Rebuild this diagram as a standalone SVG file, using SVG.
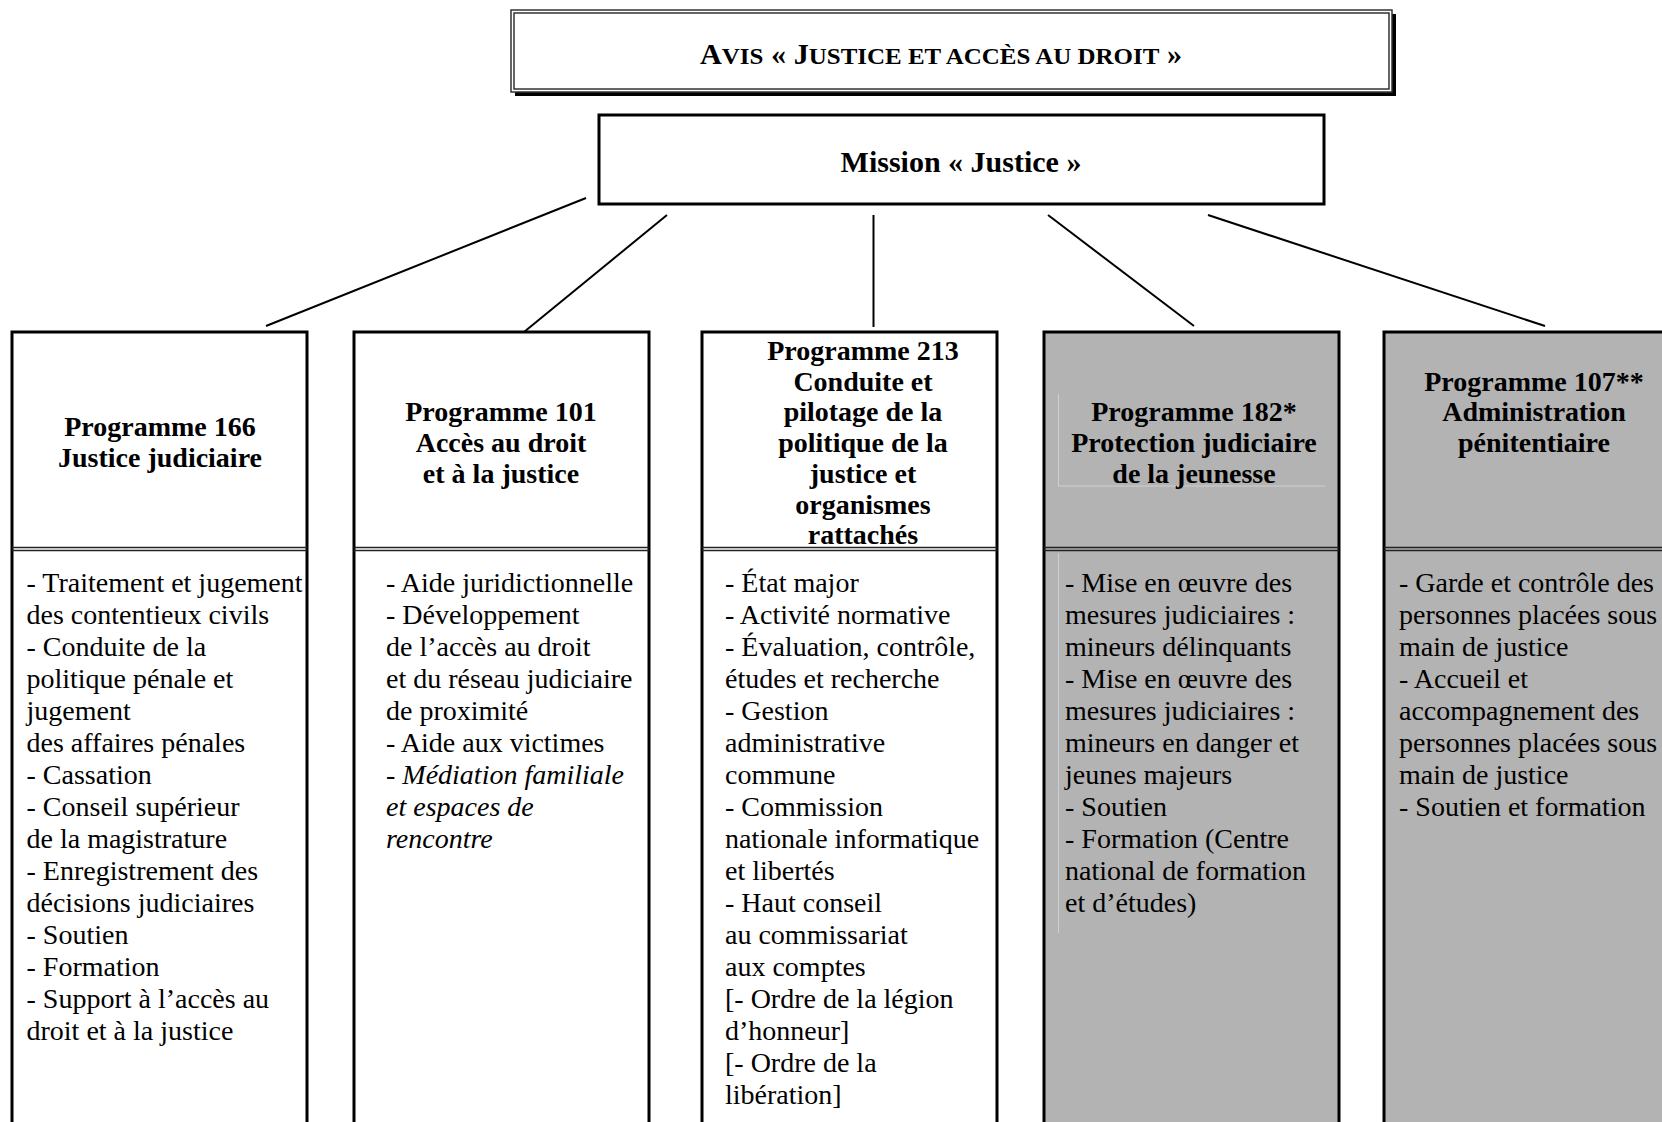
<svg xmlns="http://www.w3.org/2000/svg" width="1662" height="1122" viewBox="0 0 1662 1122">
<style>
  text { font-family: "Liberation Serif", "Times New Roman", serif; fill: #000; }
  .hd { font-size: 28px; font-weight: bold; text-anchor: middle; }
  .bd { font-size: 28px; }
  .it { font-style: italic; }
  .box { fill: #fff; stroke: #000; stroke-width: 3; }
  .gray { fill: #b3b3b3; stroke: #000; stroke-width: 3; }
  .dv { stroke: #222; stroke-width: 1.5; fill: none; }
  .faint { stroke: #cfcfcf; stroke-width: 1; fill: none; }
  .conn line { stroke: #000; stroke-width: 2; }
</style>

<g id="avis">
  <rect x="515" y="14" width="881" height="82" fill="#000"/>
  <rect x="511" y="10" width="881" height="82" fill="#fff" stroke="#333" stroke-width="1.5"/>
  <rect x="514" y="13" width="875" height="76" fill="none" stroke="#333" stroke-width="1.5"/>
  <text x="700" y="64" font-weight="bold" textLength="482" lengthAdjust="spacingAndGlyphs"><tspan font-size="29">A</tspan><tspan font-size="24">VIS</tspan><tspan font-size="29"> « J</tspan><tspan font-size="24">USTICE ET ACCÈS AU DROIT</tspan><tspan font-size="29"> »</tspan></text>
</g>

<g id="mission">
  <rect x="599" y="115" width="725" height="89" class="box"/>
  <text x="961" y="172" font-size="30" font-weight="bold" text-anchor="middle">Mission « Justice »</text>
</g>

<g id="connectors" class="conn">
  <line x1="586" y1="198" x2="266" y2="326"/>
  <line x1="667" y1="215" x2="524" y2="332"/>
  <line x1="873.5" y1="215" x2="873.5" y2="327"/>
  <line x1="1048" y1="215" x2="1194" y2="326"/>
  <line x1="1208" y1="215" x2="1545" y2="326"/>
</g>

<g id="p166">
  <rect x="12" y="332" width="295" height="810" class="box"/>
  <path class="dv" d="M12 547.5H307M12 550.5H307"/>
  <text class="hd" x="160" y="436">Programme 166</text>
  <text class="hd" x="160" y="467">Justice judiciaire</text>
  <text class="bd" x="26.5" y="592">
    <tspan x="26.5" dy="0">- Traitement et jugement</tspan>
    <tspan x="26.5" dy="32">des contentieux civils</tspan>
    <tspan x="26.5" dy="32">- Conduite de la</tspan>
    <tspan x="26.5" dy="32">politique pénale et</tspan>
    <tspan x="26.5" dy="32">jugement</tspan>
    <tspan x="26.5" dy="32">des affaires pénales</tspan>
    <tspan x="26.5" dy="32">- Cassation</tspan>
    <tspan x="26.5" dy="32">- Conseil supérieur</tspan>
    <tspan x="26.5" dy="32">de la magistrature</tspan>
    <tspan x="26.5" dy="32">- Enregistrement des</tspan>
    <tspan x="26.5" dy="32">décisions judiciaires</tspan>
    <tspan x="26.5" dy="32">- Soutien</tspan>
    <tspan x="26.5" dy="32">- Formation</tspan>
    <tspan x="26.5" dy="32">- Support à l’accès au</tspan>
    <tspan x="26.5" dy="32">droit et à la justice</tspan>
  </text>
</g>

<g id="p101">
  <rect x="354" y="332" width="295" height="810" class="box"/>
  <path class="dv" d="M354 547.5H649M354 550.5H649"/>
  <text class="hd" x="501" y="421">Programme 101</text>
  <text class="hd" x="501" y="452">Accès au droit</text>
  <text class="hd" x="501" y="483">et à la justice</text>
  <text class="bd" x="386" y="592">
    <tspan x="386" dy="0">- Aide juridictionnelle</tspan>
    <tspan x="386" dy="32">- Développement</tspan>
    <tspan x="386" dy="32">de l’accès au droit</tspan>
    <tspan x="386" dy="32">et du réseau judiciaire</tspan>
    <tspan x="386" dy="32">de proximité</tspan>
    <tspan x="386" dy="32">- Aide aux victimes</tspan>
    <tspan x="386" dy="32" class="it">- Médiation familiale</tspan>
    <tspan x="386" dy="32" class="it">et espaces de</tspan>
    <tspan x="386" dy="32" class="it">rencontre</tspan>
  </text>
</g>

<g id="p213">
  <rect x="702" y="332" width="295" height="810" class="box"/>
  <path class="dv" d="M702 547.5H997M702 550.5H997"/>
  <text class="hd" x="863" y="360">Programme 213</text>
  <text class="hd" x="863" y="390.7">Conduite et</text>
  <text class="hd" x="863" y="421.4">pilotage de la</text>
  <text class="hd" x="863" y="452.1">politique de la</text>
  <text class="hd" x="863" y="482.8">justice et</text>
  <text class="hd" x="863" y="513.5">organismes</text>
  <text class="hd" x="863" y="544.2">rattachés</text>
  <text class="bd" x="725" y="592">
    <tspan x="725" dy="0">- État major</tspan>
    <tspan x="725" dy="32">- Activité normative</tspan>
    <tspan x="725" dy="32">- Évaluation, contrôle,</tspan>
    <tspan x="725" dy="32">études et recherche</tspan>
    <tspan x="725" dy="32">- Gestion</tspan>
    <tspan x="725" dy="32">administrative</tspan>
    <tspan x="725" dy="32">commune</tspan>
    <tspan x="725" dy="32">- Commission</tspan>
    <tspan x="725" dy="32">nationale informatique</tspan>
    <tspan x="725" dy="32">et libertés</tspan>
    <tspan x="725" dy="32">- Haut conseil</tspan>
    <tspan x="725" dy="32">au commissariat</tspan>
    <tspan x="725" dy="32">aux comptes</tspan>
    <tspan x="725" dy="32">[- Ordre de la légion</tspan>
    <tspan x="725" dy="32">d’honneur]</tspan>
    <tspan x="725" dy="32">[- Ordre de la</tspan>
    <tspan x="725" dy="32">libération]</tspan>
  </text>
</g>

<g id="p182">
  <rect x="1044" y="332" width="295" height="810" class="gray"/>
  <path class="dv" d="M1044 547.5H1339M1044 550.5H1339"/>
  <path class="faint" d="M1058.5 394V486H1325M1058.5 553V933"/>
  <text class="hd" x="1194" y="421">Programme 182*</text>
  <text class="hd" x="1194" y="452">Protection judiciaire</text>
  <text class="hd" x="1194" y="483">de la jeunesse</text>
  <text class="bd" x="1065" y="592">
    <tspan x="1065" dy="0">- Mise en œuvre des</tspan>
    <tspan x="1065" dy="32">mesures judiciaires :</tspan>
    <tspan x="1065" dy="32">mineurs délinquants</tspan>
    <tspan x="1065" dy="32">- Mise en œuvre des</tspan>
    <tspan x="1065" dy="32">mesures judiciaires :</tspan>
    <tspan x="1065" dy="32">mineurs en danger et</tspan>
    <tspan x="1065" dy="32">jeunes majeurs</tspan>
    <tspan x="1065" dy="32">- Soutien</tspan>
    <tspan x="1065" dy="32">- Formation (Centre</tspan>
    <tspan x="1065" dy="32">national de formation</tspan>
    <tspan x="1065" dy="32">et d’études)</tspan>
  </text>
</g>

<g id="p107">
  <rect x="1384" y="332" width="300" height="810" class="gray"/>
  <path class="dv" d="M1384 547.5H1662M1384 550.5H1662"/>
  <text class="hd" x="1534" y="390.5">Programme 107**</text>
  <text class="hd" x="1534" y="421">Administration</text>
  <text class="hd" x="1534" y="452">pénitentiaire</text>
  <text class="bd" x="1399" y="592">
    <tspan x="1399" dy="0">- Garde et contrôle des</tspan>
    <tspan x="1399" dy="32">personnes placées sous</tspan>
    <tspan x="1399" dy="32">main de justice</tspan>
    <tspan x="1399" dy="32">- Accueil et</tspan>
    <tspan x="1399" dy="32">accompagnement des</tspan>
    <tspan x="1399" dy="32">personnes placées sous</tspan>
    <tspan x="1399" dy="32">main de justice</tspan>
    <tspan x="1399" dy="32">- Soutien et formation</tspan>
  </text>
</g>
</svg>
